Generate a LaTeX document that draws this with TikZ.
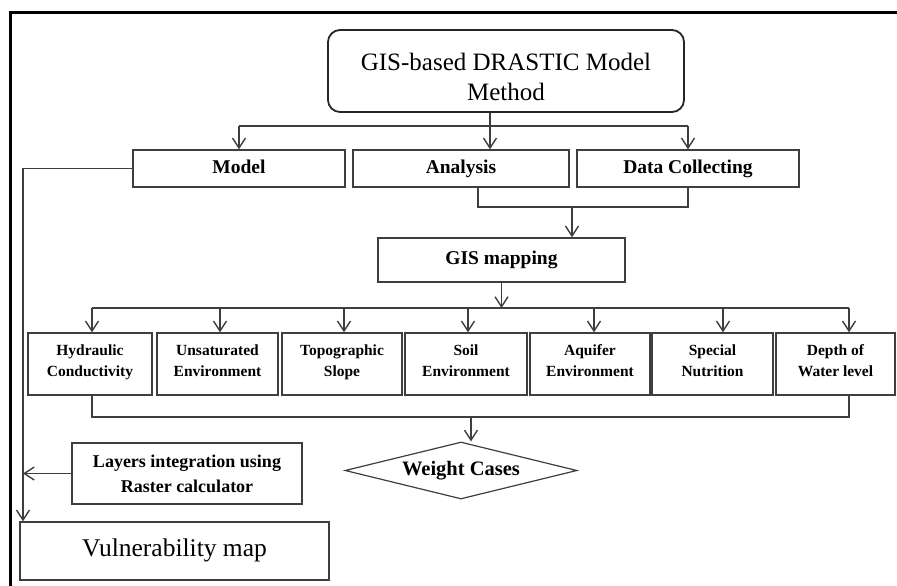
\documentclass[tikz,border=0pt]{standalone}
\usepackage{fontspec}
\setmainfont{Liberation Serif}
\usetikzlibrary{arrows.meta,shapes.geometric}
\definecolor{linegray}{RGB}{62,62,62}
\newcommand{\tiplen}{10pt}

\begin{document}
\begin{tikzpicture}[x=1pt,y=-1pt,
    box/.style={draw=linegray, line width=1.4pt, inner sep=0pt, align=center},
    lbl/.style={font=\bfseries\fontsize{19.5}{22}\selectfont, text height=13pt, text depth=4pt},
    factor/.style={font=\bfseries\fontsize{15.5}{21}\selectfont, execute at begin node=\strut, execute at end node=\strut},
    link/.style={draw=linegray, line width=1.4pt},
    arr/.style={link, -{Straight Barb[length=\tiplen,width=13pt,line width=1.4pt]}}]
      \useasboundingbox (0,0) rectangle (897,586);

        % frame
        \draw[line width=3pt] (10,586) -- (10,13) -- (897,13);

        \node (title) at (506,71) [box, rounded corners=12pt, line width=1.8pt, draw=black!85, minimum width=356, minimum height=82, font=\fontsize{25}{30}\selectfont] {\rule{0pt}{30pt}GIS-based DRASTIC Model\\Method};

        \node (model) at (239,168.5) [box, lbl, minimum width=212, minimum height=37] {Model};
        \node (analysis) at (461,168.5) [box, lbl, minimum width=216, minimum height=37] {Analysis};
        \node (data) at (688,168.5) [box, lbl, minimum width=222, minimum height=37] {Data Collecting};

        \node (gis) at (501.5,260) [box, lbl, minimum width=247, minimum height=44] {GIS mapping};

        \node (hyd) at (90,364) [box, factor, minimum width=124, minimum height=62] {Hydraulic\\Conductivity};
        \node (uns) at (217.5,364) [box, factor, minimum width=121, minimum height=62] {Unsaturated\\Environment};
        \node (topo) at (342,364) [box, factor, minimum width=120, minimum height=62] {Topographic\\Slope};
        \node (soil) at (466,364) [box, factor, minimum width=122, minimum height=62] {Soil\\Environment};
        \node (aqui) at (590,364) [box, factor, minimum width=120, minimum height=62] {Aquifer\\Environment};
        \node (spec) at (712.5,364) [box, factor, minimum width=121, minimum height=62] {Special\\Nutrition};
        \node (depth) at (835.5,364) [box, factor, minimum width=119, minimum height=62] {Depth of\\Water level};

        \node (weight) at (461,470.5) [box, lbl, font=\bfseries\fontsize{20.5}{22}\selectfont, diamond, aspect=4, line width=1.2pt, minimum width=232, minimum height=57] {Weight Cases};
        \node (layers) at (187,473.5) [box, font=\bfseries\fontsize{18}{25}\selectfont, minimum width=230, minimum height=61] {Layers integration using\\Raster calculator};
        \node (vmap) at (174.5,551) [box, font=\fontsize{25.5}{28}\selectfont, text height=17pt, text depth=6pt, minimum width=309, minimum height=58] {Vulnerability map};

        % taps and buses
        \coordinate (split) at (490,126);
        \coordinate (aj) at (478,207);
        \coordinate (join) at (572,207);
        \coordinate (bus) at (92,308);
        \coordinate (t1) at (92,308);
        \coordinate (t2) at (220,308);
        \coordinate (t3) at (344,308);
        \coordinate (t4) at (468,308);
        \coordinate (t5) at (594,308);
        \coordinate (t6) at (723,308);
        \coordinate (t7) at (849,308);
        \coordinate (low) at (92,417);
        \coordinate (tw) at (471,417);
        \coordinate (lc) at (23,168.5);

        \draw[arr] (split |- title.south) -- (split |- analysis.north);
        \draw[link] (model.north |- split) -- (data.north |- split);
        \draw[arr] (model.north |- split) -- (model.north);
        \draw[arr] (data.north |- split) -- (data.north);

        \draw[link] (aj |- analysis.south) -- (aj) -- (data.south |- aj) -- (data.south);
        \draw[arr] (join) -- (join |- gis.north);

        \draw[arr] (gis.south) -- (gis.south |- bus);
        \draw[link] (t1) -- (t7);
        \foreach \t/\f in {t1/hyd, t2/uns, t3/topo, t4/soil, t5/aqui, t6/spec, t7/depth}
          \draw[arr] (\t) -- (\t |- \f.north);

        \draw[link] (low |- hyd.south) -- (low) -- (t7 |- low) -- (t7 |- depth.south);
        \draw[arr] (tw) -- (tw |- weight.north);

        \draw[arr] (model.west) -- (lc) -- (lc |- vmap.north);
        \draw[arr] (layers.west) -- (lc |- layers.west);
    \end{tikzpicture}
\end{document}
